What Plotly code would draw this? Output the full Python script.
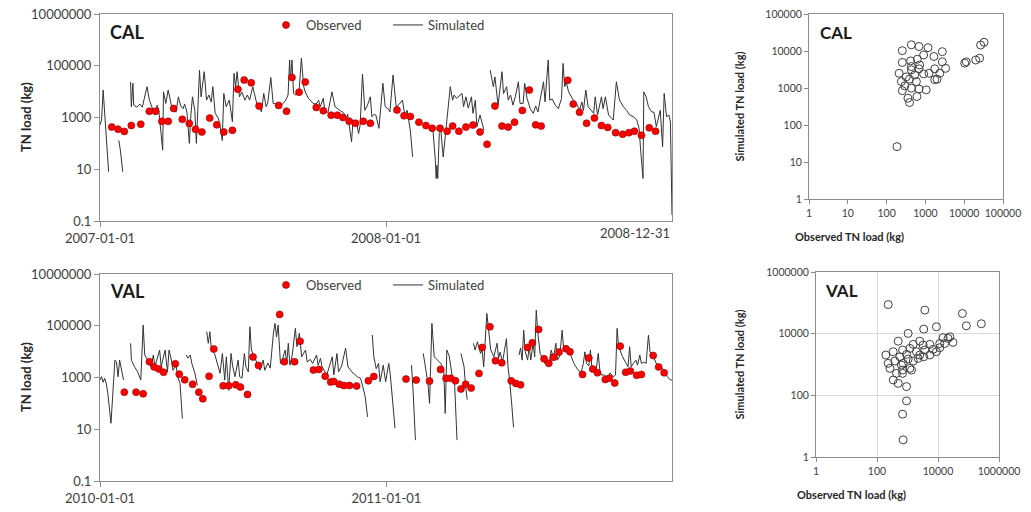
import pandas as pd
import plotly.graph_objects as go

# ---- CAL time series (days since 2007-01-01) ----
cal_obs_day = [15, 23, 31, 40, 52, 63, 71, 79, 87, 94,
               105, 114, 122, 130, 140, 149, 158, 169, 176, 184,
               193, 203, 228, 238, 245, 254, 262, 276, 285, 295,
               303, 310, 318, 326, 336, 345, 379, 388, 396, 407,
               416, 424, 434, 443, 450, 458, 467, 476, 485, 494,
               504, 513, 521, 529, 539, 548, 556, 563, 597, 604,
               612, 621, 631, 640, 648, 658, 667, 675, 682, 691,
               701, 709]
cal_obs_val = [425, 355, 290, 490, 550, 1740, 1740, 710, 710, 2240,
               850, 590, 350, 275, 950, 520, 275, 320, 12300, 28000,
               22000, 2760, 2940, 1740, 35500, 9500, 23400, 2460, 1820, 1230,
               1230, 1000, 720, 600, 720, 600, 1950, 1170, 1100, 660,
               490, 385, 385, 295, 465, 295, 425, 510, 275, 92,
               2760, 465, 425, 660, 1880, 11500, 520, 465, 27500, 3300,
               1600, 600, 950, 490, 415, 260, 225, 260, 295, 205,
               400, 295]

cal_sim_day = [0, 2, 4, 6, 8, 11, 18, 24, 26, 29, 34,
               39, 40, 42, 43, 47, 51, 54, 57, 60, 63, 67, 70, 73, 75,
               80, 81, 84, 87, 91, 94, 97, 100, 103, 106, 108, 111, 114, 116,
               118, 121, 123, 127, 129, 133, 136, 139, 142, 144, 147, 151, 153,
               156, 158, 161, 165, 169, 171, 173, 175, 178, 181, 185, 188, 191,
               195, 200, 203, 206, 209, 212, 214, 218, 221, 225, 230, 234, 237,
               240, 242, 243, 245, 247, 250, 254, 257, 260, 262, 266, 272, 276,
               279, 281, 285, 287, 291, 296, 300, 304, 308, 311, 315, 316, 321,
               323, 327, 330, 332, 335, 338, 341, 345, 347, 350, 352, 356, 361,
               364, 368, 370, 374, 378, 382, 386, 389, 392, 396, 399, 410,
               421, 425, 428, 429, 430, 431, 433, 435, 438, 442, 447, 450, 452,
               455, 462, 464, 467, 470, 474, 476, 479, 481, 485, 490, 494,
               498, 502, 504, 508, 513, 515, 519, 521, 524, 527, 530, 534, 536,
               540, 542, 545, 549, 553, 556, 559, 564, 566, 568, 572, 574, 577,
               581, 585, 589, 591, 593, 595, 598, 604, 608, 612, 615, 617, 620,
               623, 630, 632, 635, 640, 642, 645, 649, 653, 655, 659, 663, 668,
               672, 676, 681, 685, 688, 690, 693, 694, 697, 700, 704, 707, 710,
               715, 718, 720, 723, 726, 728, 730]
cal_sim_val = [510, 800, 11500, 1250, 100, 8, None, 130, 55, 8, None,
               23500, 2600, 21000, 3000, 2500, 3300, 2500, 5500, 15500, 4700, 2200, 1250, 3000, 1900,
               55, 9800, 3500, 11500, 3000, 2300, 1600, 6300, 2800, 2200, 3300, 1600, 100, 1250,
               6300, 1900, 100, 67000, 6300, 59000, 4700, 7400, 4000, 15500, 1450, 950, 510,
               130, 8500, 2600, 4700, 680, 51000, 15500, 59000, 6300, 9600, 4700, 7400, 4700,
               15500, 3500, 2800, 1650, 8500, 2600, 3600, 35000, 3500, 3300, 2800, 3500, 4700,
               7400, 166000, 28000, 166000, 8500, 7400, 9600, 195000, 15500, 9600, 5500, 3500, 3300,
               4700, 2600, 5500, 1650, 1600, 9800, 2600, 2100, 1650, 1500, 930, 1350, 115,
               800, 720, 240, 510, 48000, 1900, 2800, 6300, 1070, 1350, 1250, 380, 21000,
               2600, 2100, 1650, 44000, 2600, 3300, 4700, 1250, 1900, 320, 30, None,
               390, 300, 22, 4.4, 14, 4.4, 240, 320, 30, 380, 15500, 4700, 7400,
               5500, 8500, 2600, 6300, 2300, 6300, 1450, 4700, 440, 1250, 320, None,
               67000, 15500, 37000, 3000, 59000, 8500, 15500, 4700, 7400, 3000, 6300, 24000, 3500,
               3500, 21000, 5500, 2200, 1450, 2800, 1650, 11500, 24000, 4000, 166000, 4700, 5200,
               3000, 2200, 5500, 123000, 15500, 23500, 9800, 4700, 3500, 1900, 4000, 1900, 11500,
               2600, 1450, 6300, 1250, 6300, 2200, 6300, 1250, 930, 800, 24000, 4700, 2600,
               1900, 1250, 1070, 800, 380, 55, 4.4, 9800, 6300, 2600, 1650, 1600, 440,
               1900, 74, 8500, 1070, 1250, 680, 0.17]

# ---- VAL time series (days since 2010-01-01) ----
val_obs_day = [31, 46, 55, 63, 69, 75, 81, 96, 101, 108,
               118, 126, 131, 139, 145, 157, 164, 173, 179, 188,
               195, 202, 229, 235, 248, 255, 272, 279, 287, 294,
               298, 305, 311, 318, 327, 342, 349, 390, 403, 420,
               434, 441, 447, 453, 460, 466, 473, 483, 487, 497,
               504, 512, 524, 530, 536, 545, 551, 559, 566, 572,
               578, 585, 594, 599, 615, 623, 628, 634, 644, 649,
               656, 663, 670, 676, 684, 690, 705, 712, 719]
val_obs_val = [272, 272, 234, 4070, 2570, 2130, 1590, 3390, 1350, 810,
               550, 272, 150, 1120, 12600, 480, 480, 520, 425, 222,
               6200, 2940, 275000, 4070, 4070, 25000, 1940, 2050, 1120, 665,
               705, 550, 490, 495, 470, 745, 1100, 870, 795, 725,
               2050, 930, 930, 745, 360, 550, 390, 1440, 14500, 91000,
               4450, 3700, 745, 590, 520, 14500, 22000, 72000, 5300, 3530,
               6000, 9600, 12800, 9800, 1310, 5700, 2130, 1520, 840, 930,
               610, 16300, 1590, 1780, 1210, 1310, 7100, 2570, 1520]

val_sim_day = [0, 2, 4, 6, 8, 10, 14, 17, 19, 21, 23, 25, 28, 30, 34,
               39, 40, 44, 48, 52, 55, 57, 61, 65, 68, 70, 73, 76, 78,
               83, 86, 88, 91, 93, 97, 99, 102, 105, 107,
               110, 112, 115, 117, 121, 124, 130,
               136, 138, 140, 142, 146, 151, 153, 156, 159, 161, 164, 167, 169,
               172, 176, 178, 181, 184, 186, 189, 191, 193, 197, 201, 204, 208,
               210, 214, 217, 221, 223, 225, 227, 230, 233, 236, 238, 240, 242,
               245, 249, 251, 254, 257, 262, 264, 268, 271, 276, 278, 281, 283,
               289, 296, 298, 302, 304, 308, 313, 316, 321, 328, 332, 335, 338,
               341, 344,
               347, 349, 352, 355, 357, 361, 364, 368, 370, 372, 376, 386,
               397, 399, 402, 407,
               412, 415, 418, 420, 423, 426, 430, 434, 438, 440, 442, 445, 449,
               452, 455, 458,
               460, 464, 466, 468, 472,
               476, 478, 481, 485, 487, 489, 493, 496, 498, 502, 506, 508, 510,
               513, 518, 520, 522, 525, 527, 530,
               534, 536, 538, 540, 542, 545, 547, 549, 552, 554, 556, 558, 561,
               564, 567, 569, 572, 575, 578, 581, 583, 586, 589, 591, 593, 596,
               599, 604, 608, 613, 616, 618, 620, 623, 625, 627, 632, 635, 637,
               639, 643, 647, 650, 654, 657, 659, 661, 666, 670, 673, 675, 677,
               680, 683, 685, 688, 690, 693, 696, 699, 701, 706, 710, 715, 719,
               723, 727, 730]
val_sim_val = [800, 1070, 650, 930, 590, 240, 17, 1070, 4700, 4000, 1070, 4700, 1900, 800, None,
               21000, 4700, 2600, 1650, 800, 107000, 7400, 4700, 2600, 7400, 2600, 5600, 11500, 2600,
               11500, 1650, 11500, 4700, 1900, 3000, 1070, 590, 26, None,
               7400, 5600, 7400, 3500, 1450, 510, None,
               59000, 21000, 59000, 11500, 8500, 2600, 1450, 8500, 800, 6300, 320, 8500, 2800,
               1070, 4700, 1070, 950, 8500, 2600, 1650, 91000, 11500, 6300, 3500, 1900, 4700,
               1900, 3600, 2300, 51000, 123000, 37000, 107000, 3500, 5600, 11500, 3500, 21000, 3000,
               7400, 79000, 15500, 51000, 6300, 11500, 4000, 5000, 3500, 7400, 3000, 5500, 2600,
               1250, 6300, 1250, 8500, 1650, 2800, 13500, 2600, 1650, 1070, 930, 440, 180,
               30, None,
               44000, 6300, 2200, 3500, 680, 3000, 680, 3500, 1250, 320, 11, None,
               3000, 320, 3.8, None,
               8500, 1900, 590, 100, 123000, 6300, 4700, 3600, 2200, 41, 11500, 6800, 1070,
               510, 3.8, None,
               8500, 2600, 440, 140, None,
               21000, 11500, 24000, 8500, 11500, 2600, 300000, 37000, 11500, 6300, 21000, 5500, 9600,
               4000, 32000, 2600, 800, 74, 12, None,
               7400, 13800, 4700, 67000, 9800, 4700, 15500, 4700, 21000, 6300, 400000, 51000, 8500,
               5500, 3500, 4700, 2600, 11500, 5500, 21000, 4700, 6800, 67000, 11500, 18000, 9600,
               8500, 3500, 2200, 1450, 3500, 9800, 3500, 2800, 11500, 2200, 1650, 8500, 1900,
               1250, 1250, 930, 1500, 1070, 1250, 79000, 15500, 6300, 4000, 2600, 15500, 2600,
               3600, 4700, 3000, 7400, 3500, 3900, 3500, 44000, 9800, 5500, 3000, 2600, 1900,
               1070, 800, 800]

# ---- scatter: observed vs simulated ----
cal_sc_obs = [254, 435, 684, 1170, 2730, 900, 620, 415, 254, 1660,
              2730, 710, 435, 210, 435, 684, 900, 1240, 1740, 2350,
              3320, 1740, 2000, 240, 390, 585, 295, 435, 684, 1050,
              254, 355, 605, 390, 185, 10300, 11300, 19800, 25000, 26500,
              32500, 320, 530]
cal_sc_sim = [10200, 14700, 13200, 12300, 9600, 7800, 6000, 5400, 4900, 7100,
              5100, 4200, 3800, 2500, 3100, 3300, 2400, 2500, 3300, 2500,
              3400, 1680, 1730, 1490, 1730, 1490, 1140, 990, 940, 890,
              850, 530, 590, 405, 26, 4700, 5100, 5700, 6400, 14500,
              17200, 2000, 2250]
val_sc_obs = [233, 3700, 63000, 85000, 263000, 1050, 3400, 8900, 24500, 14700,
              495, 1540, 2530, 5400, 11400, 31000, 21400, 195, 340, 690,
              930, 1200, 1960, 3700, 6900, 11400, 16600, 233, 385, 560,
              720, 1050, 1540, 2530, 3400, 5400, 8900, 265, 435, 690,
              1200, 340, 495, 930, 690, 930, 690, 720, 1350, 635,
              2230, 3250]
val_sc_sim = [88000, 58000, 45000, 18000, 21000, 10200, 14100, 16700, 7900, 7400,
              5700, 4500, 5700, 4500, 4800, 5200, 7000, 2030, 2600, 2950,
              2130, 3330, 2600, 2950, 3100, 3500, 4800, 1090, 1300, 1780,
              1090, 1500, 1300, 2030, 1780, 2030, 2600, 750, 515, 660,
              750, 315, 245, 192, 515, 66, 24.5, 3.6, 660, 960,
              1580, 4270]

ts_yticks = [0.1, 10, 1000, 100000, 10000000]
ts_ylabels = ["0.1", "10", "1000", "100000", "10000000"]
cal_xticks = ["2007-01-01", "2008-01-01"]
val_xticks = ["2010-01-01", "2011-01-01"]
cal_sc_ticks = [1, 10, 100, 1000, 10000, 100000]
val_sc_ticks = [1, 100, 10000, 1000000]


def to_dates(start, days):
    base = pd.Timestamp(start)
    return [base + pd.Timedelta(days=d) for d in days]


FONT = "Lato"
TXT = "#404040"
AX = "#8c8c8c"
LINE = "#333333"
W, H = 1031, 512

fig = go.Figure()

# time series: lines first so the dots sit on top
fig.add_trace(go.Scatter(x=to_dates("2007-01-01", cal_sim_day), y=cal_sim_val, mode="lines",
                         line=dict(color=LINE, width=1), name="Simulated", connectgaps=False,
                         legend="legend", legendrank=2, xaxis="x", yaxis="y"))
fig.add_trace(go.Scatter(x=to_dates("2007-01-01", cal_obs_day), y=cal_obs_val, mode="markers",
                         marker=dict(color="#ff0000", size=7, line=dict(color="#8b0000", width=0.6)),
                         name="Observed", legend="legend", legendrank=1, xaxis="x", yaxis="y"))
fig.add_trace(go.Scatter(x=to_dates("2010-01-01", val_sim_day), y=val_sim_val, mode="lines",
                         line=dict(color=LINE, width=1), name="Simulated", connectgaps=False,
                         legend="legend2", legendrank=2, xaxis="x3", yaxis="y3"))
fig.add_trace(go.Scatter(x=to_dates("2010-01-01", val_obs_day), y=val_obs_val, mode="markers",
                         marker=dict(color="#ff0000", size=7, line=dict(color="#8b0000", width=0.6)),
                         name="Observed", legend="legend2", legendrank=1, xaxis="x3", yaxis="y3"))

# scatter panels
fig.add_trace(go.Scatter(x=cal_sc_obs, y=cal_sc_sim, mode="markers", showlegend=False,
                         marker=dict(symbol="circle-open", size=8, color="#404040", line=dict(width=1)),
                         xaxis="x2", yaxis="y2"))
fig.add_trace(go.Scatter(x=val_sc_obs, y=val_sc_sim, mode="markers", showlegend=False,
                         marker=dict(symbol="circle-open", size=8, color="#404040", line=dict(width=1)),
                         xaxis="x4", yaxis="y4"))

axis_common = dict(showline=True, linecolor=AX, linewidth=1, mirror=True, ticks="outside",
                   ticklen=5, tickcolor=AX, showgrid=False, zeroline=False, tickangle=0,
                   automargin=False, tickfont=dict(family=FONT, size=13, color=TXT))
sc_common = dict(axis_common, tickfont=dict(family=FONT, size=10.5, color=TXT), ticklen=4)


def px_x(a, b):
    return [a / W, b / W]


def px_y(top, bottom):
    return [1 - bottom / H, 1 - top / H]


fig.update_layout(
    width=W, height=H,
    margin=dict(l=0, r=0, t=0, b=0, autoexpand=False),
    paper_bgcolor="white", plot_bgcolor="white",
    font=dict(family=FONT, color=TXT),
    xaxis=dict(axis_common, domain=px_x(100, 672), anchor="y", type="date",
               range=["2007-01-01", "2008-12-31"], tickvals=cal_xticks, ticktext=cal_xticks),
    yaxis=dict(axis_common, domain=px_y(14, 221), anchor="x", type="log",
               range=[-1, 7], tickvals=ts_yticks, ticktext=ts_ylabels),
    xaxis3=dict(axis_common, domain=px_x(100, 672), anchor="y3", type="date",
                range=["2010-01-01", "2011-12-31"], tickvals=val_xticks, ticktext=val_xticks),
    yaxis3=dict(axis_common, domain=px_y(274, 481), anchor="x3", type="log",
                range=[-1, 7], tickvals=ts_yticks, ticktext=ts_ylabels),
    xaxis2=dict(sc_common, domain=px_x(809, 1003), anchor="y2", type="log", range=[0, 5],
                tickvals=cal_sc_ticks, ticktext=[str(v) for v in cal_sc_ticks]),
    yaxis2=dict(sc_common, domain=px_y(14, 199), anchor="x2", type="log", range=[0, 5],
                tickvals=cal_sc_ticks, ticktext=[str(v) for v in cal_sc_ticks]),
    xaxis4=dict(sc_common, domain=px_x(816, 999), anchor="y4", type="log", range=[0, 6],
                tickvals=val_sc_ticks, ticktext=[str(v) for v in val_sc_ticks],
                showgrid=True, gridcolor="#d9d9d9"),
    yaxis4=dict(sc_common, domain=px_y(272, 457), anchor="x4", type="log", range=[0, 6],
                tickvals=val_sc_ticks, ticktext=[str(v) for v in val_sc_ticks],
                showgrid=True, gridcolor="#d9d9d9"),
    legend=dict(orientation="h", x=266 / W, y=1 - 25 / H, xanchor="left", yanchor="middle",
                entrywidthmode="pixels", entrywidth=77, itemwidth=30,
                font=dict(family=FONT, size=13, color=TXT), bgcolor="rgba(0,0,0,0)"),
    legend2=dict(orientation="h", x=266 / W, y=1 - 285 / H, xanchor="left", yanchor="middle",
                 entrywidthmode="pixels", entrywidth=77, itemwidth=30,
                 font=dict(family=FONT, size=13, color=TXT), bgcolor="rgba(0,0,0,0)"),
)

bold = dict(family=FONT, size=13, color="#262626")
small_bold = dict(family=FONT, size=11, color="#262626")
notes = [
    # panel labels
    dict(text="<b>CAL</b>", x=108, y=32, xanchor="left", font=dict(family=FONT, size=18, color="#1a1a1a")),
    dict(text="<b>VAL</b>", x=108, y=291, xanchor="left", font=dict(family=FONT, size=18, color="#1a1a1a")),
    dict(text="<b>CAL</b>", x=818, y=32, xanchor="left", font=dict(family=FONT, size=17, color="#1a1a1a")),
    dict(text="<b>VAL</b>", x=823, y=290, xanchor="left", font=dict(family=FONT, size=17, color="#1a1a1a")),
    # axis titles
    dict(text="<b>TN load (kg)</b>", x=16, y=117, textangle=-90, font=bold),
    dict(text="<b>TN load (kg)</b>", x=16, y=377, textangle=-90, font=bold),
    dict(text="<b>Simulated TN load (kg)</b>", x=747, y=107, textangle=-90, font=small_bold),
    dict(text="<b>Simulated TN load (kg)</b>", x=747, y=365, textangle=-90, font=small_bold),
    dict(text="<b>Observed TN load (kg)</b>", x=906, y=236, font=small_bold),
    dict(text="<b>Observed TN load (kg)</b>", x=908, y=494, font=small_bold),
    # last date label of the CAL axis sits inside the plot edge
    dict(text="2008-12-31", x=672, y=233, xanchor="right", font=dict(family=FONT, size=13, color=TXT)),
]
for n in notes:
    n["x"] = n["x"] / W
    n["y"] = 1 - n["y"] / H
    fig.add_annotation(xref="paper", yref="paper", showarrow=False, yanchor="middle", **n)

# the page's default body margin would shift the figure by 8 px
fig.write_html("out.html", config={"displayModeBar": False},
               post_script="document.body.style.margin = '0';")
